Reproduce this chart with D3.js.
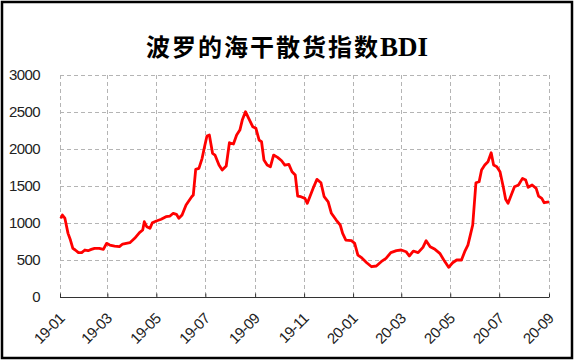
<!DOCTYPE html>
<html>
<head>
<meta charset="utf-8">
<script src="https://cdn.jsdelivr.net/npm/d3@7"></script>
<style>
  html, body { margin: 0; padding: 0; background: #fff; }
  svg { display: block; }
</style>
</head>
<body>
<div id="chart"></div>
<script>
// Baltic Dry Index, 2019-01 .. 2020-09
const dates = [
  '2019-01-02','2019-01-04','2019-01-07','2019-01-11','2019-01-14','2019-01-17','2019-01-20','2019-01-24','2019-01-28',
  '2019-02-01','2019-02-05','2019-02-09','2019-02-13','2019-02-19','2019-02-24','2019-02-28',
  '2019-03-04','2019-03-10','2019-03-16','2019-03-20','2019-03-29',
  '2019-04-04','2019-04-10','2019-04-14','2019-04-16','2019-04-19','2019-04-23','2019-04-26',
  '2019-05-01','2019-05-07','2019-05-13','2019-05-18','2019-05-22','2019-05-26','2019-05-29',
  '2019-06-02','2019-06-07','2019-06-14','2019-06-16','2019-06-19','2019-06-23','2019-06-27','2019-06-30',
  '2019-07-03','2019-07-06','2019-07-10','2019-07-13','2019-07-18','2019-07-22','2019-07-27','2019-07-31',
  '2019-08-05','2019-08-09','2019-08-13','2019-08-16','2019-08-20','2019-08-24','2019-08-29',
  '2019-09-02','2019-09-06','2019-09-09','2019-09-12','2019-09-16','2019-09-20','2019-09-24','2019-09-29',
  '2019-10-04','2019-10-08','2019-10-13','2019-10-17','2019-10-21','2019-10-24','2019-10-28',
  '2019-11-02','2019-11-05','2019-11-09','2019-11-13','2019-11-17','2019-11-22','2019-11-26',
  '2019-12-01','2019-12-05','2019-12-11','2019-12-16','2019-12-19','2019-12-23','2019-12-30',
  '2020-01-03','2020-01-07','2020-01-11','2020-01-18','2020-01-24','2020-01-30',
  '2020-02-05','2020-02-11','2020-02-17','2020-02-24',
  '2020-03-01','2020-03-07','2020-03-11','2020-03-16','2020-03-22','2020-03-28',
  '2020-04-01','2020-04-06','2020-04-12','2020-04-18','2020-04-23','2020-04-29',
  '2020-05-04','2020-05-09','2020-05-15','2020-05-19','2020-05-23','2020-05-26','2020-05-29',
  '2020-06-02','2020-06-06','2020-06-09','2020-06-13','2020-06-17','2020-06-21','2020-06-24','2020-06-28',
  '2020-07-02','2020-07-06','2020-07-09','2020-07-12','2020-07-16','2020-07-20','2020-07-25','2020-07-30',
  '2020-08-03','2020-08-06','2020-08-11','2020-08-16','2020-08-19','2020-08-23','2020-08-26','2020-09-01'
];
const bdi = [
  1063,1108,1067,860,770,658,635,599,599,
  635,626,644,658,658,644,725,
  702,689,680,716,734,
  793,869,905,1017,950,928,1004,
  1027,1050,1085,1094,1131,1117,1063,
  1108,1243,1355,1378,1725,1739,1874,2031,
  2175,2189,1941,1918,1783,1716,1770,2085,
  2067,2189,2256,2391,2504,2414,2301,
  2279,2121,2098,1851,1783,1760,1918,1887,
  1841,1783,1793,1693,1648,1364,1355,
  1333,1266,1378,1490,1590,1544,1355,
  1287,1131,1040,973,860,770,761,
  725,567,536,463,409,419,
  477,523,599,626,
  635,612,554,621,599,671,
  761,680,644,590,500,401,
  463,500,500,612,702,837,973,
  1544,1558,1716,1783,1828,1950,1783,1760,
  1693,1490,1320,1266,1378,1490,1513,1603,
  1580,1482,1513,1468,1364,1333,1274,1287
];
const yTicks = [0, 500, 1000, 1500, 2000, 2500, 3000];
const titleCn = '波罗的海干散货指数';
const titleEn = 'BDI';

const width = 576, height = 364;
const parse = d3.timeParse('%Y-%m-%d');
const series = dates.map((d, i) => ({ date: parse(d), value: bdi[i] }));

const svg = d3.select('#chart').append('svg')
  .attr('width', width)
  .attr('height', height);

svg.append('rect')
  .attr('width', width).attr('height', height)
  .attr('fill', '#fff');

// outer frame
svg.append('rect')
  .attr('x', 2).attr('y', 2)
  .attr('width', 570).attr('height', 356)
  .attr('fill', 'none')
  .attr('stroke', '#000')
  .attr('stroke-width', 2.5);

// title
const t = svg.append('text')
  .attr('x', 287).attr('y', 56)
  .attr('text-anchor', 'middle')
  .attr('font-weight', 'bold')
  .attr('fill', '#000');
t.append('tspan')
  .attr('font-family', '"Noto Sans CJK SC", sans-serif')
  .attr('font-size', 24)
  .attr('letter-spacing', 2)
  .text(titleCn);
t.append('tspan')
  .attr('font-family', '"Liberation Serif", serif')
  .attr('font-size', 27)
  .text(titleEn);

const x = d3.scaleTime()
  .domain([parse('2019-01-01'), parse('2020-09-01')])
  .range([60, 549]);
const y = d3.scaleLinear()
  .domain([0, 3000])
  .range([297, 75]);

const monthTicks = d3.timeMonth.every(2).range(parse('2019-01-01'), parse('2020-09-02'));

// grid
const grid = svg.append('g')
  .attr('stroke', '#b4b4b4')
  .attr('stroke-width', 1)
  .attr('stroke-dasharray', '4,3');
grid.selectAll('.hg')
  .data(yTicks.filter(v => v > 0))
  .enter().append('line')
  .attr('x1', 60).attr('x2', 549)
  .attr('y1', d => Math.round(y(d)) + 0.5)
  .attr('y2', d => Math.round(y(d)) + 0.5);
grid.selectAll('.vg')
  .data(monthTicks)
  .enter().append('line')
  .attr('x1', d => Math.round(x(d)) + 0.5)
  .attr('x2', d => Math.round(x(d)) + 0.5)
  .attr('y1', 75).attr('y2', 297);

// y axis labels
svg.append('g')
  .selectAll('text')
  .data(yTicks)
  .enter().append('text')
  .attr('x', 40)
  .attr('y', d => y(d) + 5)
  .attr('text-anchor', 'end')
  .attr('font-family', '"Liberation Sans", Arial, sans-serif')
  .attr('font-size', 15)
  .attr('letter-spacing', -0.6)
  .attr('fill', '#222')
  .text(d => d);

// x axis
const xAxis = d3.axisBottom(x)
  .tickValues(monthTicks)
  .tickSize(-4)
  .tickFormat(d3.timeFormat('%y-%m'));
const gx = svg.append('g')
  .attr('transform', 'translate(0,297.5)')
  .call(xAxis);
gx.select('.domain').attr('stroke', '#333').attr('d', 'M60,0H549');
gx.selectAll('.tick line').attr('stroke', '#333');
gx.selectAll('.tick text')
  .attr('font-family', '"Liberation Sans", Arial, sans-serif')
  .attr('font-size', 15)
  .attr('letter-spacing', -0.5)
  .attr('fill', '#222')
  .attr('text-anchor', 'end')
  .attr('dy', 0)
  .attr('transform', 'translate(5,22) rotate(-45)')
  .attr('y', 0)
  .attr('x', 0);

// line
const line = d3.line()
  .x(d => x(d.date))
  .y(d => y(d.value));
svg.append('path')
  .datum(series)
  .attr('d', line)
  .attr('fill', 'none')
  .attr('stroke', '#ff0000')
  .attr('stroke-width', 2.8)
  .attr('stroke-linejoin', 'round');
</script>
</body>
</html>
